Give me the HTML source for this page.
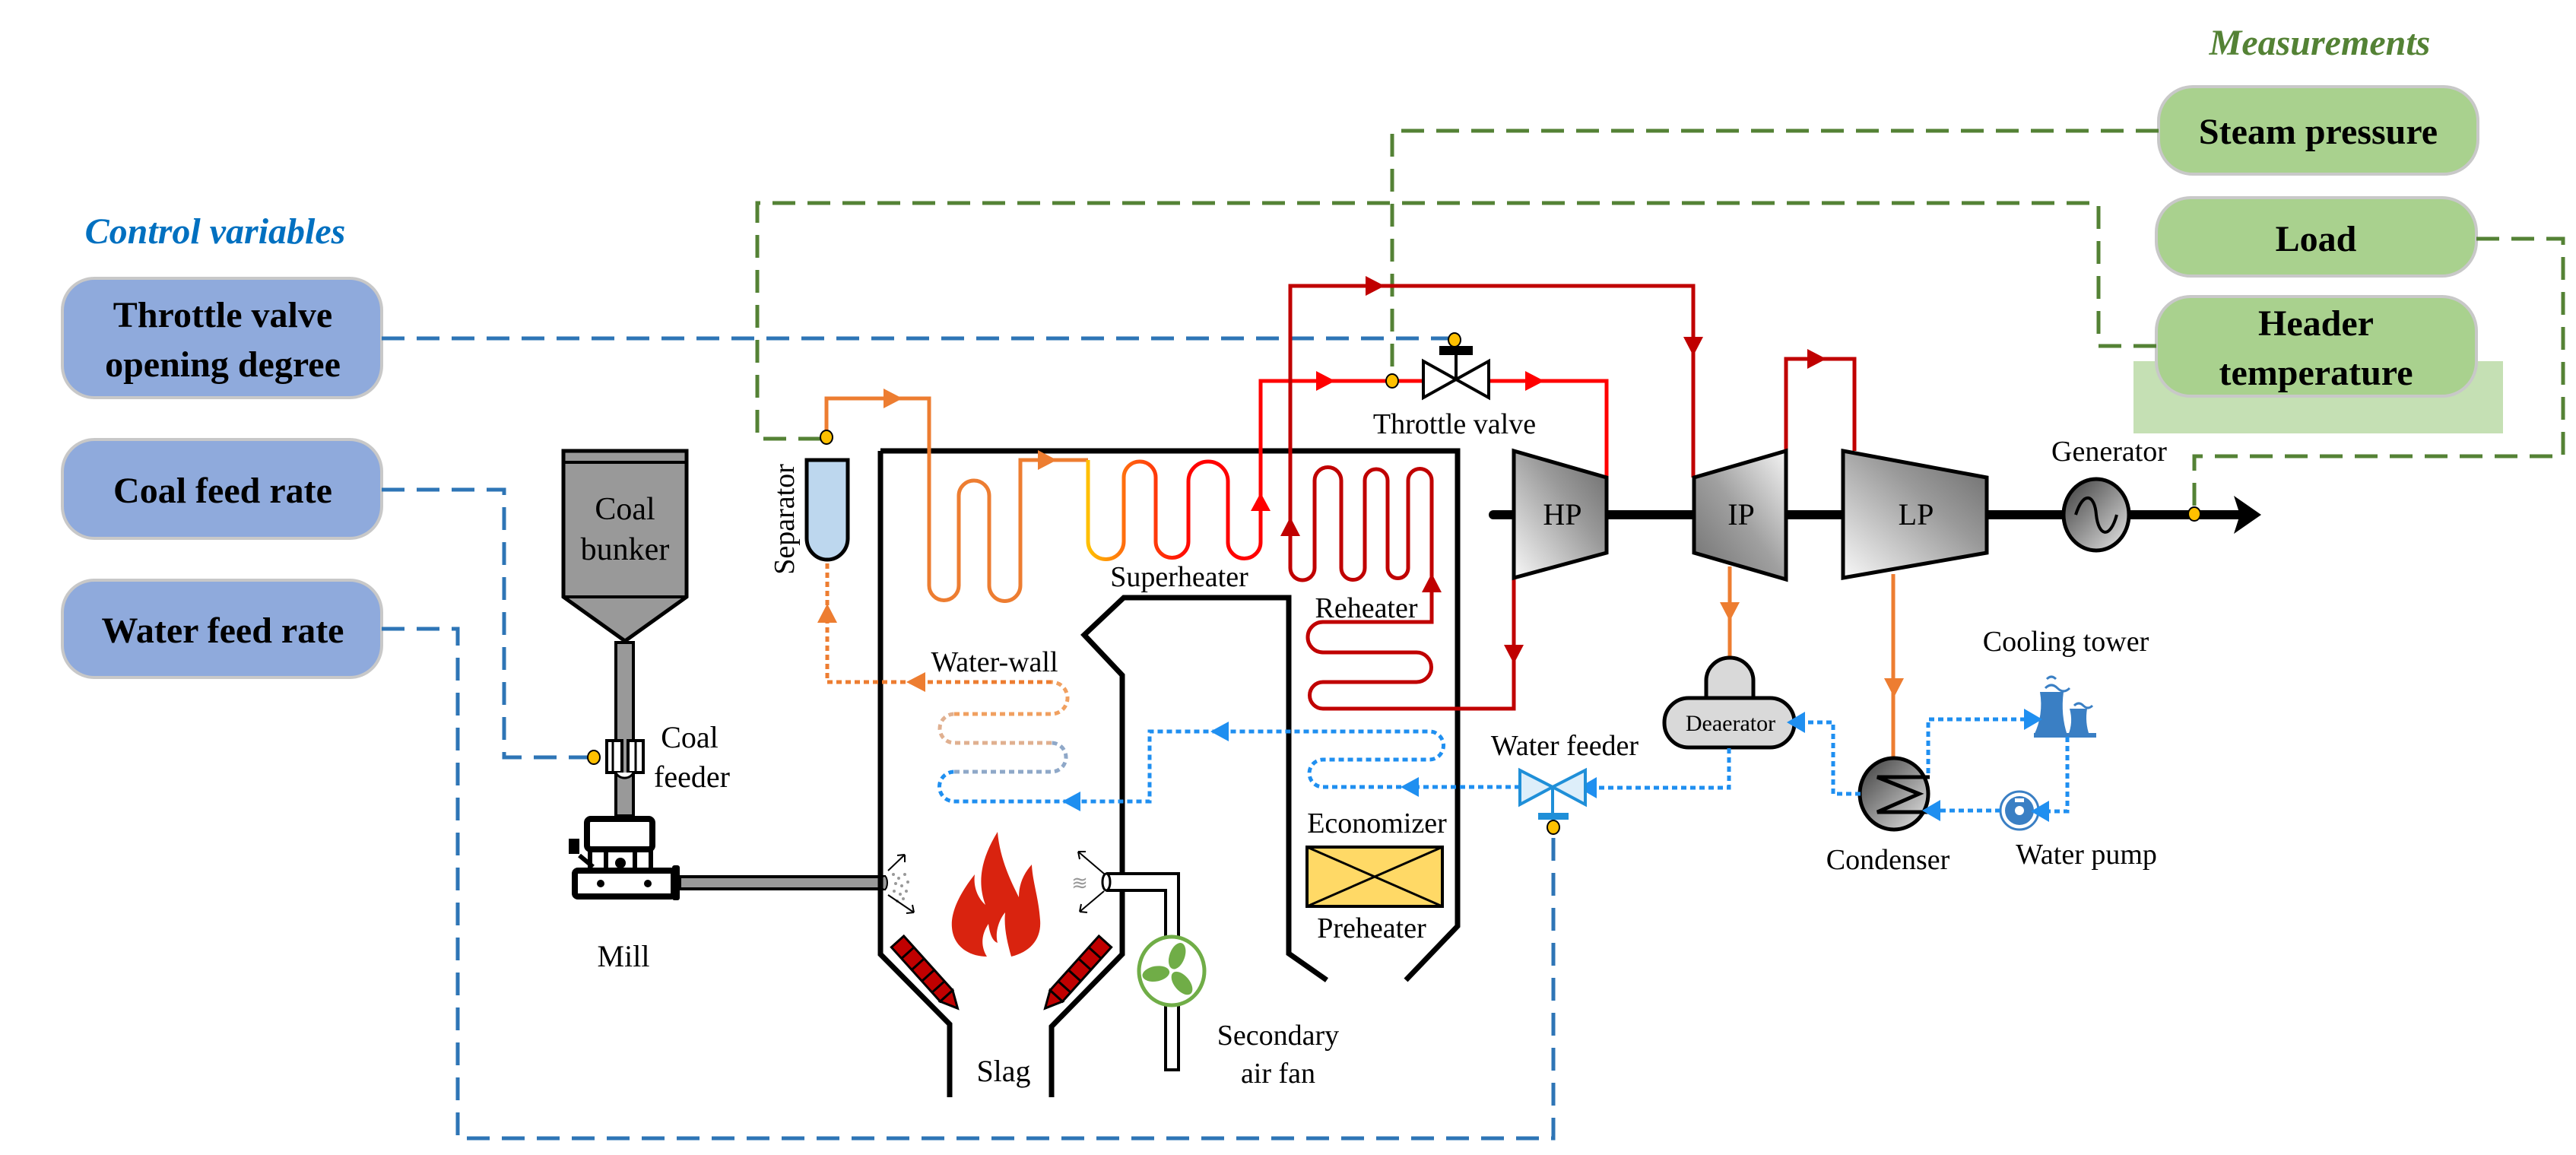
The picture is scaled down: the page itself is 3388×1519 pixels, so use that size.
<!DOCTYPE html>
<html><head><meta charset="utf-8"><style>
html,body{margin:0;padding:0;background:#fff;}
svg{display:block;font-family:"Liberation Serif","Times New Roman","DejaVu Serif",serif;}
svg text{font-family:"Liberation Serif","Times New Roman","DejaVu Serif",serif;}
</style></head><body>
<svg width="3388" height="1519" viewBox="0 0 3388 1519" xmlns="http://www.w3.org/2000/svg" font-family="Liberation Serif, Times New Roman, serif">
<defs>
<linearGradient id="sh" gradientUnits="userSpaceOnUse" x1="1431" y1="0" x2="1570" y2="0">
<stop offset="0" stop-color="#ffc000"/><stop offset="0.4" stop-color="#ff6010"/><stop offset="1" stop-color="#ff0000"/></linearGradient>
<linearGradient id="tg" x1="0" y1="1" x2="1" y2="0">
<stop offset="0" stop-color="#f8f8f8"/><stop offset="0.6" stop-color="#9a9a9a"/><stop offset="1" stop-color="#6a6a6a"/></linearGradient>
<linearGradient id="tg2" x1="0" y1="1" x2="1" y2="0">
<stop offset="0" stop-color="#707070"/><stop offset="0.5" stop-color="#a0a0a0"/><stop offset="1" stop-color="#f4f4f4"/></linearGradient>
<linearGradient id="cg" x1="0" y1="0" x2="1" y2="1">
<stop offset="0" stop-color="#3a3a3a"/><stop offset="1" stop-color="#e8e8e8"/></linearGradient>
</defs>

<text x="283" y="320" font-size="48" font-weight="bold" font-style="italic" fill="#0070c0" text-anchor="middle" font-family="Liberation Serif, serif">Control variables</text>
<text x="3051" y="72" font-size="48" font-weight="bold" font-style="italic" fill="#548235" text-anchor="middle" font-family="Liberation Serif, serif">Measurements</text>

<g fill="#8faadc" stroke="#c8c8c8" stroke-width="4">
<rect x="82" y="366" width="420" height="157" rx="42"/>
<rect x="82" y="578" width="420" height="130" rx="42"/>
<rect x="82" y="763" width="420" height="128" rx="42"/>
</g>
<g font-size="48" font-weight="bold" text-anchor="middle" fill="#000" font-family="Liberation Serif, serif">
<text x="293" y="430">Throttle valve</text>
<text x="293" y="495">opening degree</text>
<text x="293" y="661">Coal feed rate</text>
<text x="293" y="845">Water feed rate</text>
</g>

<rect x="2806" y="475" width="486" height="95" fill="#c5e0b4"/>
<g fill="#a9d18e" stroke="#c8c8c8" stroke-width="4">
<rect x="2839" y="114" width="420" height="115" rx="45"/>
<rect x="2836" y="260" width="421" height="103" rx="45"/>
<rect x="2836" y="390" width="421" height="131" rx="45"/>
</g>
<g font-size="48" font-weight="bold" text-anchor="middle" fill="#000" font-family="Liberation Serif, serif">
<text x="3049" y="189">Steam pressure</text>
<text x="3046" y="330">Load</text>
<text x="3046" y="441">Header</text>
<text x="3046" y="506">temperature</text>
</g>

<g fill="none" stroke="#2e75b6" stroke-width="5" stroke-dasharray="30 16">
<path d="M502,445 H1913"/>
<path d="M502,644 H663 V996 H781"/>
<path d="M502,827 H602 V1497 H2043 V1094"/>
</g>
<g fill="none" stroke="#548235" stroke-width="5" stroke-dasharray="30 16">
<path d="M2839,172 H1831 V494"/>
<path d="M1080,577 H996 V267 H2760 V455 H2836"/>
<path d="M3257,314 H3371 V600 H2886 V669"/>
</g>

<g font-family="Liberation Serif, serif">
<path d="M741,593 H903 V785 L822,843 L741,785 Z" fill="#999" stroke="#000" stroke-width="5"/>
<line x1="741" y1="608" x2="903" y2="608" stroke="#000" stroke-width="4"/>
<line x1="741" y1="785" x2="903" y2="785" stroke="#000" stroke-width="4"/>
<text x="822" y="683" font-size="42" text-anchor="middle">Coal</text>
<text x="822" y="736" font-size="42" text-anchor="middle">bunker</text>
<rect x="810" y="845" width="23" height="228" fill="#999" stroke="#000" stroke-width="4"/>
<rect x="798" y="974" width="20" height="42" fill="#fff" stroke="#000" stroke-width="4"/>
<rect x="826" y="974" width="20" height="42" fill="#fff" stroke="#000" stroke-width="4"/>
<line x1="806" y1="976" x2="806" y2="1014" stroke="#000" stroke-width="3"/>
<line x1="836" y1="976" x2="836" y2="1014" stroke="#000" stroke-width="3"/>
<path d="M810,1016 A12,10 0 0 0 833,1016" fill="#fff" stroke="#000" stroke-width="3"/>
<text x="907" y="983" font-size="40" text-anchor="middle">Coal</text>
<text x="910" y="1035" font-size="40" text-anchor="middle">feeder</text>

<rect x="772" y="1077" width="86" height="40" rx="5" fill="#fff" stroke="#000" stroke-width="8"/>
<rect x="776" y="1118" width="80" height="30" fill="#fff" stroke="#000" stroke-width="6"/>
<line x1="797" y1="1120" x2="797" y2="1148" stroke="#000" stroke-width="6"/>
<line x1="835" y1="1120" x2="835" y2="1148" stroke="#000" stroke-width="6"/>
<circle cx="816" cy="1135" r="7" fill="#000"/>
<rect x="748" y="1103" width="14" height="20" fill="#000"/>
<path d="M762,1125 L780,1140" stroke="#000" stroke-width="6"/>
<rect x="756" y="1145" width="130" height="34" rx="4" fill="#fff" stroke="#000" stroke-width="8"/>
<circle cx="790" cy="1162" r="5" fill="#000"/><circle cx="852" cy="1162" r="5" fill="#000"/>
<rect x="884" y="1138" width="10" height="46" rx="3" fill="#000"/>
<rect x="894" y="1153" width="269" height="16" fill="#999" stroke="#000" stroke-width="4"/>
<ellipse cx="1163" cy="1161" rx="4" ry="9" fill="#999" stroke="#000" stroke-width="2"/>
<text x="820" y="1271" font-size="40" text-anchor="middle">Mill</text>

<g fill="none" stroke="#000" stroke-width="7" stroke-linejoin="miter">
<path d="M1158,593 V1255 L1249,1347 V1443"/>
<path d="M1158,593 H1917 V1218 L1849,1289"/>
<path d="M1383,1443 V1350 L1476,1255 V888 L1426,835 L1478,786 H1695 V1254 L1745,1289"/>
</g>

<path d="M1061,605 H1115 V708 A27,28 0 0 1 1061,708 Z" fill="#bdd7ee" stroke="#000" stroke-width="5"/>
<text transform="translate(1044,683) rotate(-90)" font-size="38" text-anchor="middle">Separator</text>

<path d="M1087,575 V524 H1222 V770 A19.5,19.5 0 0 0 1261,770 V652 A20,20 0 0 1 1301,652 V770 A20.5,20.5 0 0 0 1342,770 V605 H1431" fill="none" stroke="#ed7d31" stroke-width="5"/>
<path d="M1431,605 V712 A23.5,23.5 0 0 0 1478,712 V628 A21,21 0 0 1 1520,628 V712 A21.5,21.5 0 0 0 1563,712 V633 A26,26 0 0 1 1615,633 V713 A21.5,21.5 0 0 0 1658,713 V501 H1872" fill="none" stroke="url(#sh)" stroke-width="5"/>
<path d="M1658,712 V501 H1872 M1958,501 H2113 V628" fill="none" stroke="#ff0000" stroke-width="5"/>
<polygon points="1162,511 1187,524 1162,537" fill="#ed7d31"/>
<polygon points="1365,592 1390,605 1365,618" fill="#ed7d31"/>
<polygon points="1645,672 1658,648 1671,672" fill="#ff0000"/>
<polygon points="1731,488 1756,501 1731,514" fill="#ff0000"/>
<polygon points="2006,488 2031,501 2006,514" fill="#ff0000"/>
<text x="1551" y="771" font-size="38" text-anchor="middle">Superheater</text>

<g fill="none" stroke="#c00000" stroke-width="5">
<path d="M2227,628 V376 H1697 V747 A16,16 0 0 0 1729,747 V632 A17.5,17.5 0 0 1 1764,632 V747 A15.5,15.5 0 0 0 1795,747 V632 A15,15 0 0 1 1825,632 V747 A13.5,13.5 0 0 0 1852,747 V632 A15.5,15.5 0 0 1 1883,632 V818 H1740 A20,20 0 0 0 1740,858 H1863 A19.5,19.5 0 0 1 1863,897 H1740 A17.5,17.5 0 0 0 1740,932 H1991 V760"/>
<path d="M2349,593 V472 H2439 V593"/>
</g>
<g fill="#c00000">
<polygon points="1796,363 1821,376 1796,389"/>
<polygon points="2214,443 2227,468 2240,443"/>
<polygon points="1684,705 1697,680 1710,705"/>
<polygon points="1870,779 1883,754 1896,779"/>
<polygon points="1978,848 1991,873 2004,848"/>
<polygon points="2377,459 2402,472 2377,485"/>
</g>
<text x="1797" y="812" font-size="38" text-anchor="middle">Reheater</text>

<polygon points="1872,475 1872,523 1915,499" fill="#fff" stroke="#000" stroke-width="4"/>
<polygon points="1958,475 1958,523 1915,499" fill="#fff" stroke="#000" stroke-width="4"/>
<line x1="1915" y1="499" x2="1915" y2="466" stroke="#000" stroke-width="4"/>
<rect x="1893" y="455" width="44" height="12" fill="#000"/>
<text x="1913" y="570" font-size="38" text-anchor="middle">Throttle valve</text>

<line x1="1964" y1="677" x2="2950" y2="677" stroke="#000" stroke-width="12" stroke-linecap="round"/>
<polygon points="2938,652 2974,677 2938,702 2946,677" fill="#000"/>
<polygon points="1991,593 2113,628 2113,727 1991,760" fill="url(#tg)" stroke="#000" stroke-width="5"/>
<polygon points="2228,628 2349,593 2349,762 2228,727" fill="url(#tg2)" stroke="#000" stroke-width="5"/>
<polygon points="2424,593 2613,628 2613,727 2424,760" fill="url(#tg)" stroke="#000" stroke-width="5"/>
<text x="2055" y="690" font-size="40" text-anchor="middle">HP</text>
<text x="2290" y="690" font-size="40" text-anchor="middle">IP</text>
<text x="2520" y="690" font-size="40" text-anchor="middle">LP</text>
<ellipse cx="2757" cy="677" rx="43" ry="47" fill="url(#cg)" stroke="#000" stroke-width="5"/>
<path d="M2730,677 C2740,645 2755,650 2757,677 C2760,705 2775,710 2784,677" fill="none" stroke="#000" stroke-width="4"/>
<text x="2774" y="606" font-size="38" text-anchor="middle">Generator</text>

<g stroke="#ed7d31" stroke-width="5" fill="none">
<path d="M2275,745 V866"/><path d="M2490,755 V998"/>
</g>
<polygon points="2262,792 2275,817 2288,792" fill="#ed7d31"/>
<polygon points="2478,892 2491,917 2504,892" fill="#ed7d31"/>

<path d="M2244,918 V895 A31,30 0 0 1 2306,895 V918" fill="#d9d9d9" stroke="#000" stroke-width="5"/>
<rect x="2189" y="918" width="171" height="65" rx="32" fill="#d9d9d9" stroke="#000" stroke-width="5"/>
<text x="2276" y="961" font-size="30" text-anchor="middle">Deaerator</text>

<ellipse cx="2491" cy="1044" rx="45" ry="47" fill="url(#cg)" stroke="#000" stroke-width="5"/>
<polyline points="2538,1022 2469,1022 2524,1044 2469,1068 2536,1068" fill="none" stroke="#000" stroke-width="5"/>
<text x="2483" y="1143" font-size="38" text-anchor="middle">Condenser</text>

<path d="M2683,910 H2714 Q2710,940 2719,967 H2675 Q2688,940 2683,910 Z" fill="#3a7fc4"/>
<path d="M2722,932 H2745 Q2742,950 2748,967 H2720 Q2727,950 2722,932 Z" fill="#3a7fc4"/>
<rect x="2675" y="964" width="82" height="6" fill="#3a7fc4"/>
<path d="M2690,905 q8,-8 16,0 q8,8 16,0 M2692,893 q6,-6 12,0" fill="none" stroke="#3a7fc4" stroke-width="3"/>
<path d="M2728,928 q6,-6 12,0 q6,6 12,0" fill="none" stroke="#3a7fc4" stroke-width="3"/>
<text x="2717" y="856" font-size="38" text-anchor="middle">Cooling tower</text>

<circle cx="2656" cy="1066" r="25" fill="#fff" stroke="#3a7fc4" stroke-width="3"/>
<circle cx="2656" cy="1066" r="19" fill="#3a7fc4"/>
<circle cx="2656" cy="1066" r="6" fill="#fff"/>
<rect x="2650" y="1050" width="12" height="5" fill="#fff"/>
<text x="2744" y="1136" font-size="38" text-anchor="middle">Water pump</text>

<g fill="none" stroke="#1f8ff0" stroke-width="5" stroke-dasharray="7 5">
<path d="M2536,1017 V946 H2672"/>
<path d="M2719,969 V1067 H2690"/>
<path d="M2631,1066 H2545"/>
<path d="M2447,1044 H2411 V950 H2370"/>
<path d="M2274,984 V1036 H2095"/>
<path d="M1999,1035 H1740 A18,18 0 0 1 1740,999 H1880 A18.5,18.5 0 0 0 1880,962 H1512 V1054 H1255 A19.5,19.5 0 0 1 1255,1015"/>
</g>
<path d="M1255,1015 H1383 A19,19 0 0 0 1383,977" fill="none" stroke="#8fa8c8" stroke-width="5" stroke-dasharray="7 5"/>
<path d="M1383,977 H1255 A19,19 0 0 1 1255,939" fill="none" stroke="#e0b090" stroke-width="5" stroke-dasharray="7 5"/>
<path d="M1255,939 H1383 A21,21 0 0 0 1383,897" fill="none" stroke="#f0a060" stroke-width="5" stroke-dasharray="7 5"/>
<path d="M1383,897 H1088 V736" fill="none" stroke="#ed7d31" stroke-width="5" stroke-dasharray="7 5"/>
<polygon points="1217,884 1192,897 1217,910" fill="#ed7d31"/>
<polygon points="1075,819 1088,794 1101,819" fill="#ed7d31"/>
<g fill="#1f8ff0">
<polygon points="2662,932 2686,946 2662,960"/>
<polygon points="2695,1053 2671,1067 2695,1081"/>
<polygon points="2552,1052 2528,1066 2552,1080"/>
<polygon points="2374,936 2350,950 2374,964"/>
<polygon points="2100,1022 2076,1036 2100,1050"/>
<polygon points="1866,1022 1842,1035 1866,1048"/>
<polygon points="1616,949 1592,962 1616,975"/>
<polygon points="1421,1041 1397,1054 1421,1067"/>
</g>
<text x="1308" y="883" font-size="38" text-anchor="middle">Water-wall</text>

<polygon points="1999,1013 1999,1058 2042,1035" fill="#ddeefa" stroke="#1f8fd8" stroke-width="4"/>
<polygon points="2085,1013 2085,1058 2042,1035" fill="#ddeefa" stroke="#1f8fd8" stroke-width="4"/>
<line x1="2042" y1="1035" x2="2042" y2="1070" stroke="#1f8fd8" stroke-width="4"/>
<rect x="2023" y="1069" width="40" height="9" fill="#1f8fd8"/>
<text x="2058" y="993" font-size="38" text-anchor="middle">Water feeder</text>

<text x="1811" y="1095" font-size="38" text-anchor="middle">Economizer</text>
<rect x="1719" y="1114" width="178" height="78" fill="#ffd966" stroke="#000" stroke-width="4"/>
<path d="M1719,1114 L1897,1192 M1897,1114 L1719,1192" stroke="#000" stroke-width="3"/>
<text x="1804" y="1233" font-size="38" text-anchor="middle">Preheater</text>

<path d="M1312,1094 C1290,1130 1285,1160 1296,1190 C1285,1180 1280,1165 1282,1150 C1262,1175 1250,1200 1252,1220 C1254,1245 1275,1258 1298,1258 C1290,1245 1290,1230 1300,1215 C1302,1230 1306,1238 1312,1240 C1308,1225 1315,1208 1322,1200 C1320,1220 1325,1240 1330,1258 C1355,1252 1370,1235 1368,1210 C1366,1180 1358,1160 1357,1137 C1345,1150 1340,1165 1340,1180 C1330,1160 1315,1130 1312,1094 Z" fill="#d9230f"/>

<g transform="translate(1218,1280) rotate(48)">
<rect x="-56" y="-11" width="96" height="22" fill="#c00000" stroke="#000" stroke-width="3"/>
<polygon points="40,-11 62,0 40,11" fill="#c00000" stroke="#000" stroke-width="3"/>
<path d="M-36,-11 V11 M-16,-11 V11 M4,-11 V11 M24,-11 V11" stroke="#000" stroke-width="3"/>
</g>
<g transform="translate(1416,1280) rotate(132)">
<rect x="-56" y="-11" width="96" height="22" fill="#c00000" stroke="#000" stroke-width="3"/>
<polygon points="40,-11 62,0 40,11" fill="#c00000" stroke="#000" stroke-width="3"/>
<path d="M-36,-11 V11 M-16,-11 V11 M4,-11 V11 M24,-11 V11" stroke="#000" stroke-width="3"/>
</g>

<g fill="#999">
<circle cx="1175" cy="1150" r="2"/><circle cx="1182" cy="1155" r="2"/><circle cx="1190" cy="1150" r="2"/>
<circle cx="1178" cy="1162" r="2"/><circle cx="1186" cy="1165" r="2"/><circle cx="1194" cy="1160" r="2"/>
<circle cx="1176" cy="1172" r="2"/><circle cx="1184" cy="1176" r="2"/><circle cx="1192" cy="1172" r="2"/>
<circle cx="1188" cy="1182" r="2"/><circle cx="1180" cy="1185" r="2"/>
</g>
<path d="M1168,1145 L1190,1124 M1190,1124 l-10,1 M1190,1124 l0,10 M1168,1177 L1202,1200 M1202,1200 l-10,1 M1202,1200 l-2,-10" stroke="#000" stroke-width="2" fill="none"/>
<text x="1420" y="1170" font-size="26" fill="#999" text-anchor="middle">≋</text>
<path d="M1452,1149 L1418,1120 M1418,1120 l10,0 M1418,1120 l2,10 M1452,1172 L1420,1199 M1420,1199 l2,-10 M1420,1199 l10,1" stroke="#000" stroke-width="2" fill="none"/>

<path d="M1455,1149 H1550 V1407 H1533 V1171 H1455" fill="#fff" stroke="#000" stroke-width="4"/>
<ellipse cx="1455" cy="1160" rx="5" ry="11" fill="#fff" stroke="#000" stroke-width="3"/>
<ellipse cx="1541" cy="1277" rx="43" ry="45" fill="#fff" stroke="#70ad47" stroke-width="5"/>
<g fill="#70ad47">
<ellipse cx="1541" cy="1256" rx="10" ry="18" transform="rotate(20 1541 1277)"/>
<ellipse cx="1541" cy="1256" rx="10" ry="18" transform="rotate(140 1541 1277)"/>
<ellipse cx="1541" cy="1256" rx="10" ry="18" transform="rotate(260 1541 1277)"/>
</g>
<text x="1681" y="1374" font-size="38" text-anchor="middle">Secondary</text>
<text x="1681" y="1424" font-size="38" text-anchor="middle">air fan</text>
<text x="1320" y="1422" font-size="40" text-anchor="middle">Slag</text>
</g>

<g fill="#ffc000" stroke="#000" stroke-width="2">
<ellipse cx="1913" cy="447" rx="8" ry="9"/>
<ellipse cx="781" cy="996" rx="8" ry="9"/>
<ellipse cx="2043" cy="1088" rx="8" ry="9"/>
<ellipse cx="1087" cy="575" rx="8" ry="9"/>
<ellipse cx="1831" cy="501" rx="8" ry="9"/>
<ellipse cx="2886" cy="676" rx="8" ry="9"/>
</g>
</svg>
</body></html>
